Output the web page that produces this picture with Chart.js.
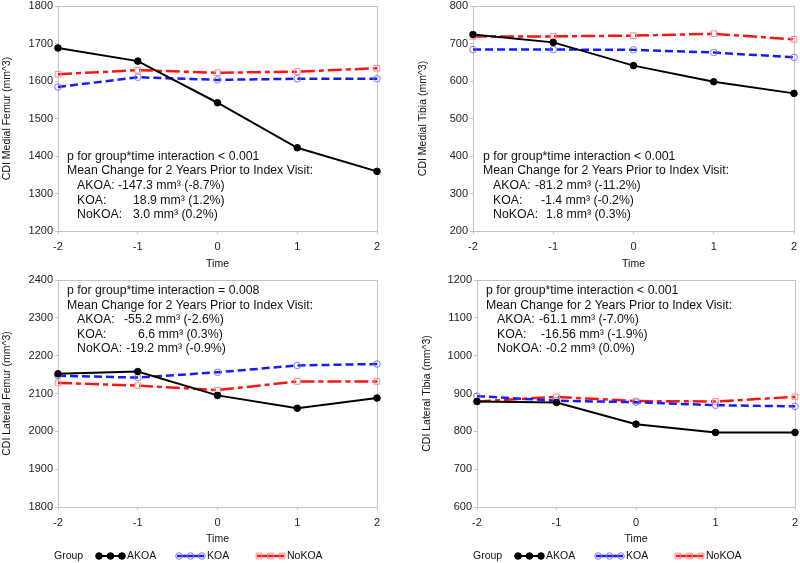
<!DOCTYPE html>
<html>
<head>
<meta charset="utf-8">
<script src="https://cdn.jsdelivr.net/npm/chart.js@4.4.0/dist/chart.umd.min.js"></script>
<style>
body { margin: 0; background: #fff; }
canvas { position: absolute; }
</style>
</head>
<body>
<canvas id="c1" width="400" height="272" style="left:0;top:0"></canvas>
<canvas id="c2" width="400" height="272" style="left:400px;top:0"></canvas>
<canvas id="c3" width="400" height="291" style="left:0;top:272px"></canvas>
<canvas id="c4" width="400" height="291" style="left:400px;top:272px"></canvas>
<script>
var times = ['-2', '-1', '0', '1', '2'];
var groups = ['AKOA', 'KOA', 'NoKOA'];

// CDI Medial Femur
var medialFemurAKOA = [1688, 1653, 1542, 1422, 1359];
var medialFemurKOA = [1584, 1610, 1603, 1606, 1606];
var medialFemurNoKOA = [1618, 1629, 1622, 1625, 1634];
var medialFemurTicks = [1200, 1800];
var medialFemurNotes = ['p for group*time interaction < 0.001', 'Mean Change for 2 Years Prior to Index Visit:'];
var medialFemurChanges = ['-147.3 mm³ (-8.7%)', '18.9 mm³ (1.2%)', '3.0 mm³ (0.2%)'];

// CDI Medial Tibia
var medialTibiaAKOA = [724, 703, 641, 598, 567];
var medialTibiaKOA = [684, 684, 683, 676, 663];
var medialTibiaNoKOA = [719, 719, 721, 726, 711];
var medialTibiaTicks = [200, 800];
var medialTibiaNotes = ['p for group*time interaction < 0.001', 'Mean Change for 2 Years Prior to Index Visit:'];
var medialTibiaChanges = ['-81.2 mm³ (-11.2%)', '-1.4 mm³ (-0.2%)', '1.8 mm³ (0.3%)'];

// CDI Lateral Femur
var lateralFemurAKOA = [2152, 2158, 2095, 2061, 2088];
var lateralFemurKOA = [2147, 2142, 2156, 2174, 2178];
var lateralFemurNoKOA = [2128, 2121, 2109, 2132, 2132];
var lateralFemurTicks = [1800, 2400];
var lateralFemurNotes = ['p for group*time interaction = 0.008', 'Mean Change for 2 Years Prior to Index Visit:'];
var lateralFemurChanges = ['-55.2 mm³ (-2.6%)', '6.6 mm³ (0.3%)', '-19.2 mm³ (-0.9%)'];

// CDI Lateral Tibia
var lateralTibiaAKOA = [879, 876, 819, 797, 797];
var lateralTibiaKOA = [893, 881, 877, 869, 866];
var lateralTibiaNoKOA = [879, 891, 880, 879, 891];
var lateralTibiaTicks = [600, 1200];
var lateralTibiaNotes = ['p for group*time interaction < 0.001', 'Mean Change for 2 Years Prior to Index Visit:'];
var lateralTibiaChanges = ['-61.1 mm³ (-7.0%)', '-16.56 mm³ (-1.9%)', '-0.2 mm³ (0.0%)'];

var FONT = '"Liberation Sans", Arial, sans-serif';
var AXIS_GRAY = '#c4c4c4';

var lineStyles = [
    { borderColor: '#000000', borderWidth: 2, borderDash: [], pointStyle: 'circle', pointRadius: 3.3,
      pointBackgroundColor: '#000000', pointBorderColor: '#000000' },
    { borderColor: '#1a1aff', borderWidth: 2.5, borderDash: [8, 4], pointStyle: 'circle', pointRadius: 3.3,
      pointBackgroundColor: 'rgba(0,0,0,0)', pointBorderColor: '#7a7aff' },
    { borderColor: '#ff1414', borderWidth: 2.5, borderDash: [14, 4, 5, 4], pointStyle: 'rect', pointRadius: 4,
      pointBackgroundColor: 'rgba(0,0,0,0)', pointBorderColor: '#ff8a8a' }
];

function makeDataset(i, values){
    var s = lineStyles[i];
    return {
        label: groups[i],
        data: values,
        borderColor: s.borderColor,
        borderWidth: s.borderWidth,
        borderDash: s.borderDash,
        pointStyle: s.pointStyle,
        pointRadius: s.pointRadius,
        pointBorderWidth: 1,
        pointBackgroundColor: s.pointBackgroundColor,
        pointBorderColor: s.pointBorderColor,
        tension: 0,
        clip: false
    };
}

// gray box round the plot area
var framePlugin = {
    id: 'frame',
    beforeDatasetsDraw: function(chart){
        var a = chart.chartArea, ctx = chart.ctx;
        ctx.save();
        ctx.strokeStyle = AXIS_GRAY;
        ctx.lineWidth = 1;
        ctx.strokeRect(Math.round(a.left) + 0.5, Math.round(a.top) + 0.5,
            Math.round(a.right - a.left), Math.round(a.bottom - a.top));
        ctx.restore();
    }
};

// p value and mean change text inside the plot
var notesPlugin = {
    id: 'notes',
    afterDatasetsDraw: function(chart, args, opts){
        if(!opts.lines) return;
        var a = chart.chartArea, ctx = chart.ctx;
        var x = a.left + opts.dx, y = a.top + opts.dy, step = 14.6;
        ctx.save();
        ctx.font = '12.3px ' + FONT;
        ctx.fillStyle = '#111';
        ctx.textBaseline = 'middle';
        ctx.fillText(opts.lines[0], x, y);
        ctx.fillText(opts.lines[1], x, y + step);
        for(var i = 0; i < groups.length; i++){
            var yy = y + step * (i + 2);
            ctx.fillText(groups[i] + ':', x + opts.indent, yy);
            ctx.fillText(opts.changes[i], x + opts.indent + opts.valueX[i], yy);
        }
        ctx.restore();
    }
};

// "Group" legend with three markers on a line
var groupLegendPlugin = {
    id: 'groupLegend',
    afterDraw: function(chart, args, opts){
        if(!opts.show) return;
        var a = chart.chartArea, ctx = chart.ctx;
        var x0 = a.left - 4, y = chart.height - 7;
        ctx.save();
        ctx.font = '10.5px ' + FONT;
        ctx.fillStyle = '#111';
        ctx.textBaseline = 'middle';
        ctx.fillText('Group', x0, y);
        for(var i = 0; i < groups.length; i++){
            var s = lineStyles[i];
            var sx = x0 + 43 + 80 * i;
            ctx.save();
            ctx.strokeStyle = s.borderColor;
            ctx.lineWidth = s.borderWidth;
            ctx.beginPath();
            ctx.moveTo(sx, y);
            ctx.lineTo(sx + 27, y);
            ctx.stroke();
            ctx.restore();
            for(var k = 0; k < 3; k++){
                ctx.strokeStyle = i === 0 ? s.borderColor : s.pointBorderColor;
                ctx.fillStyle = s.pointBackgroundColor;
                ctx.lineWidth = 1;
                Chart.helpers.drawPoint(ctx, { pointStyle: s.pointStyle, radius: s.pointRadius, borderWidth: 1, rotation: 0 },
                    sx + 2 + 11.5 * k, y);
            }
            ctx.fillStyle = '#111';
            ctx.fillText(groups[i], sx + 30, y);
        }
        ctx.restore();
    }
};

function noAutoPadding(s){
    s.paddingLeft = 0;
    s.paddingRight = 0;
    s.paddingTop = 0;
    s.paddingBottom = 0;
}

function makeChart(id, title, series, range, layout, notes){
    var ctx = document.getElementById(id).getContext('2d');
    return new Chart(ctx, {
        type: 'line',
        data: {
            labels: times,
            datasets: [makeDataset(0, series[0]), makeDataset(1, series[1]), makeDataset(2, series[2])]
        },
        options: {
            responsive: false,
            animation: false,
            layout: { padding: layout.padding },
            plugins: {
                legend: { display: false },
                tooltip: { enabled: false },
                notes: notes,
                groupLegend: { show: layout.legend }
            },
            scales: {
                x: {
                    offset: false,
                    grid: { drawOnChartArea: false, drawTicks: true, tickLength: 3, color: AXIS_GRAY },
                    border: { color: AXIS_GRAY },
                    ticks: { font: { family: FONT, size: 11 }, color: '#222', padding: 6, maxRotation: 0 },
                    title: { display: true, text: 'Time', font: { family: FONT, size: 10.5 }, color: '#111',
                             padding: { top: 0, bottom: layout.timePad } },
                    afterFit: function(s){ s.height = layout.xHeight; noAutoPadding(s); }
                },
                y: {
                    min: range[0],
                    max: range[1],
                    grid: { drawOnChartArea: false, drawTicks: true, tickLength: 3, color: AXIS_GRAY },
                    border: { color: AXIS_GRAY },
                    ticks: { stepSize: 100, font: { family: FONT, size: 11 }, color: '#222', padding: 2,
                             callback: function(v){ return String(v); } },
                    title: { display: true, text: title, font: { family: FONT, size: 10.5 }, color: '#111',
                             padding: { top: layout.titlePad, bottom: 0 } },
                    afterFit: function(s){ s.width = layout.yWidth; noAutoPadding(s); }
                }
            }
        },
        plugins: [framePlugin, notesPlugin, groupLegendPlugin]
    });
}

makeChart('c1', 'CDI Medial Femur (mm^3)',
    [medialFemurAKOA, medialFemurKOA, medialFemurNoKOA], medialFemurTicks,
    { padding: { top: 6, right: 23, bottom: 0, left: 0 }, yWidth: 58, xHeight: 41, titlePad: 1, timePad: 2, legend: false },
    { lines: medialFemurNotes, changes: medialFemurChanges, dx: 9, dy: 150.5, indent: 10, valueX: [41, 56, 56] });

makeChart('c2', 'CDI Medial Tibia (mm^3)',
    [medialTibiaAKOA, medialTibiaKOA, medialTibiaNoKOA], medialTibiaTicks,
    { padding: { top: 6, right: 6, bottom: 0, left: 0 }, yWidth: 73, xHeight: 41, titlePad: 17, timePad: 2, legend: false },
    { lines: medialTibiaNotes, changes: medialTibiaChanges, dx: 10, dy: 150.5, indent: 10, valueX: [42, 48, 53] });

makeChart('c3', 'CDI Lateral Femur (mm^3)',
    [lateralFemurAKOA, lateralFemurKOA, lateralFemurNoKOA], lateralFemurTicks,
    { padding: { top: 8, right: 23, bottom: 18, left: 0 }, yWidth: 58, xHeight: 38, titlePad: 1, timePad: 0, legend: true },
    { lines: lateralFemurNotes, changes: lateralFemurChanges, dx: 9, dy: 10.7, indent: 10, valueX: [47, 61, 49] });

makeChart('c4', 'CDI Lateral Tibia (mm^3)',
    [lateralTibiaAKOA, lateralTibiaKOA, lateralTibiaNoKOA], lateralTibiaTicks,
    { padding: { top: 8, right: 5, bottom: 18, left: 0 }, yWidth: 77, xHeight: 38, titlePad: 21, timePad: 0, legend: true },
    { lines: lateralTibiaNotes, changes: lateralTibiaChanges, dx: 9, dy: 10.7, indent: 11, valueX: [42, 44, 49] });
</script>
</body>
</html>
